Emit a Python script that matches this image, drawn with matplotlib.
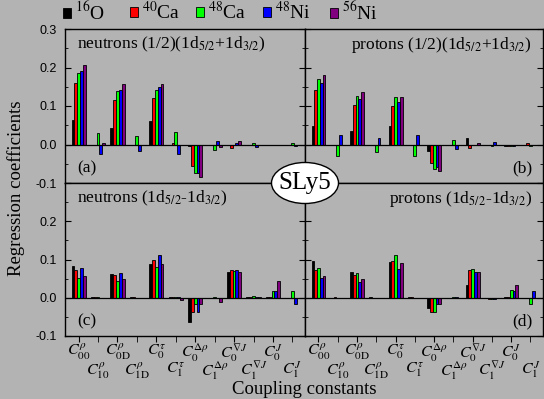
import numpy as np
import matplotlib
matplotlib.use("Agg")
import matplotlib.pyplot as plt
from matplotlib.patches import Ellipse

plt.rcParams['font.family'] = ['Liberation Serif', 'DejaVu Serif']
plt.rcParams['mathtext.fontset'] = 'stix'

# coupling constants (x groups)
couplings = [r'$C^{\rho}_{\mathrm{00}}$', r'$C^{\rho}_{\mathrm{10}}$', r'$C^{\rho}_{\mathrm{0D}}$',
             r'$C^{\rho}_{\mathrm{1D}}$', r'$C^{\tau}_{\mathrm{0}}$', r'$C^{\tau}_{\mathrm{1}}$',
             r'$C^{\Delta\rho}_{\mathrm{0}}$', r'$C^{\Delta\rho}_{\mathrm{1}}$',
             r'$C^{\nabla J}_{\mathrm{0}}$', r'$C^{\nabla J}_{\mathrm{1}}$',
             r'$C^{J}_{\mathrm{0}}$', r'$C^{J}_{\mathrm{1}}$']
nuclei = [r'$^{16}$O', r'$^{40}$Ca', r'$^{48}$Ca', r'$^{48}$Ni', r'$^{56}$Ni']
colors = ['black', '#ff0000', '#00ff00', '#0000ff', '#800080']

# rows = coupling constant, columns = nucleus (16O, 40Ca, 48Ca, 48Ni, 56Ni)
neutrons_sum = [
    [0.063, 0.160, 0.185, 0.191, 0.207],
    [0.0, 0.0, 0.029, -0.024, 0.003],
    [0.043, 0.116, 0.139, 0.142, 0.157],
    [0.0, 0.0, 0.022, -0.017, 0.0],
    [0.061, 0.121, 0.141, 0.150, 0.157],
    [0.0, 0.003, 0.032, -0.024, 0.0],
    [-0.005, -0.057, -0.074, -0.074, -0.084],
    [0.0, 0.0, -0.013, 0.008, -0.006],
    [0.0, -0.009, 0.0, 0.003, 0.008],
    [0.0, 0.0, 0.005, -0.006, 0.0],
    [-0.002, -0.002, 0.0, 0.0, 0.0],
    [0.0, 0.0, 0.003, -0.003, 0.0],
]
protons_sum = [
    [0.048, 0.142, 0.170, 0.160, 0.181],
    [0.0, -0.002, -0.029, 0.024, -0.002],
    [0.035, 0.103, 0.125, 0.117, 0.137],
    [0.0, 0.0, -0.019, 0.017, -0.002],
    [0.048, 0.100, 0.123, 0.110, 0.123],
    [0.0, -0.002, -0.029, 0.024, -0.002],
    [-0.017, -0.048, -0.063, -0.058, -0.069],
    [0.0, 0.0, 0.011, -0.011, 0.0],
    [0.017, -0.009, 0.0, -0.002, 0.003],
    [0.0, 0.0, -0.005, 0.006, 0.0],
    [-0.003, -0.003, -0.003, -0.005, 0.0],
    [0.0, 0.003, -0.003, 0.0, 0.0],
]
neutrons_diff = [
    [0.083, 0.073, 0.052, 0.078, 0.057],
    [0.002, 0.002, 0.002, 0.0, 0.0],
    [0.063, 0.060, 0.044, 0.065, 0.050],
    [0.002, 0.002, 0.0, 0.0, 0.0],
    [0.089, 0.099, 0.081, 0.112, 0.089],
    [0.003, 0.003, 0.003, 0.003, -0.007],
    [-0.064, -0.038, -0.017, -0.036, -0.017],
    [0.0, 0.0, 0.003, 0.0, -0.010],
    [0.068, 0.073, 0.070, 0.073, 0.068],
    [0.002, 0.002, 0.005, 0.002, 0.001],
    [0.002, 0.002, 0.018, 0.018, 0.044],
    [0.0, 0.0, 0.018, -0.017, 0.0],
]
protons_diff = [
    [0.097, 0.073, 0.078, 0.052, 0.057],
    [0.0, 0.002, 0.0, 0.0, 0.0],
    [0.068, 0.060, 0.065, 0.042, 0.050],
    [0.002, 0.0, 0.0, 0.0, 0.0],
    [0.094, 0.097, 0.112, 0.076, 0.091],
    [0.002, 0.002, 0.0, 0.0, 0.0],
    [-0.028, -0.038, -0.038, -0.017, -0.017],
    [0.0, 0.0, 0.003, 0.003, 0.0],
    [0.034, 0.073, 0.076, 0.068, 0.068],
    [0.0, -0.002, -0.002, -0.002, 0.0],
    [0.002, 0.002, 0.021, 0.017, 0.034],
    [0.0, 0.0, -0.017, 0.018, 0.0],
]

panel_titles = [r'neutrons (1/2)(1d$_{5/2}$+1d$_{3/2}$)', r'protons (1/2)(1d$_{5/2}$+1d$_{3/2}$)',
                r'neutrons (1d$_{5/2}$-1d$_{3/2}$)', r'protons (1d$_{5/2}$-1d$_{3/2}$)']
panel_tags = ['(a)', '(b)', '(c)', '(d)']

bg = '#b3b3b3'
W, H = 544, 399
fig = plt.figure(figsize=(W / 100, H / 100), dpi=100, facecolor=bg)

xl, xm, xr = 65 / W, 305 / W, 543 / W
yt, ym, yb = 1 - 29 / H, 1 - 183 / H, 1 - 336 / H
boxes = [(xl, ym, xm - xl, yt - ym), (xm, ym, xr - xm, yt - ym),
         (xl, yb, xm - xl, ym - yb), (xm, yb, xr - xm, ym - yb)]
data = [neutrons_sum, protons_sum, neutrons_diff, protons_diff]

x = np.arange(len(couplings))
bw = 0.145
axes = []
for k in range(4):
    ax = fig.add_axes(boxes[k])
    ax.set_facecolor(bg)
    vals = np.array(data[k]).T
    for i in range(5):
        ax.bar(x + (i - 2) * bw, vals[i], bw, color=colors[i], edgecolor='black',
               linewidth=0.6, label=nuclei[i])
    ax.axhline(0, color='black', lw=0.9)
    ax.set_xlim(-0.7, 11.65)
    ax.set_ylim(-0.1, 0.3)
    for s in ax.spines.values():
        s.set_linewidth(1.0)
    ax.set_yticks([-0.1, 0.0, 0.1, 0.2, 0.3])
    ax.set_yticks(np.arange(-0.1, 0.31, 0.05), minor=True)
    ax.tick_params(axis='y', which='both', direction='in', left=True, right=True,
                   labelsize=9, pad=6)
    ax.tick_params(axis='y', which='major', length=4)
    ax.tick_params(axis='y', which='minor', length=2.5)
    if k % 2 == 1:
        ax.tick_params(axis='y', labelleft=False)
    elif k == 2:
        ax.set_yticklabels(['-0.1', '0.0', '0.1', '0.2', ''])
    else:
        ax.set_yticklabels(['-0.1', '0.0', '0.1', '0.2', '0.3'])
    for lab in ax.get_yticklabels():
        lab.set_fontfamily('Liberation Sans')

    if k < 2:
        ax.set_xticks(x)
        ax.tick_params(axis='x', direction='out', length=3, labelbottom=False)
    else:
        ax.set_xticks(x[0::2])
        ax.set_xticklabels(couplings[0::2], fontsize=11.5)
        ax.set_xticks(x[1::2], minor=True)
        ax.set_xticklabels(couplings[1::2], minor=True, fontsize=11.5)
        ax.tick_params(axis='x', which='both', direction='out', length=4)
        ax.tick_params(axis='x', which='major', pad=0.5)
        ax.tick_params(axis='x', which='minor', pad=13)

    if k % 2 == 0:
        ax.text(0.05, 0.96, panel_titles[k], transform=ax.transAxes, fontsize=12.5,
                ha='left', va='top')
        ax.text(0.05, 0.04, panel_tags[k], transform=ax.transAxes, fontsize=12.5,
                ha='left', va='bottom')
    else:
        ax.text(0.955, 0.96, panel_titles[k], transform=ax.transAxes, fontsize=12.5,
                ha='right', va='top')
        ax.text(0.955, 0.04, panel_tags[k], transform=ax.transAxes, fontsize=12.5,
                ha='right', va='bottom')
    axes.append(ax)

# SLy5 label in a white ellipse across the panel junction
ell = Ellipse((xm, ym), 67 / W, 41 / H, transform=fig.transFigure, facecolor='white',
              edgecolor='black', lw=1.0, zorder=10)
fig.patches.append(ell)
fig.text(xm, ym, 'SLy5', fontsize=18, ha='center', va='center', zorder=11)

# legend entries evenly spaced across the top
handles, labels = axes[0].get_legend_handles_labels()
legend_x = [63, 130, 196, 263, 330]
for h, lab, lx in zip(handles, labels, legend_x):
    fig.legend([h], [lab], loc='upper left', bbox_to_anchor=(lx / W, 1 - 1 / H),
               frameon=False, fontsize=14, handlelength=0.42, handleheight=0.42,
               handletextpad=0.2, borderpad=0.0, borderaxespad=0.0)

fig.text(16 / W, 1 - 188 / H, 'Regression coefficients', rotation=90, fontsize=13.5,
         ha='center', va='center')
fig.text(304 / W, 1 - 390 / H, 'Coupling constants', fontsize=13.5, ha='center', va='center')

fig.savefig('out.png', dpi=100, facecolor=bg)
